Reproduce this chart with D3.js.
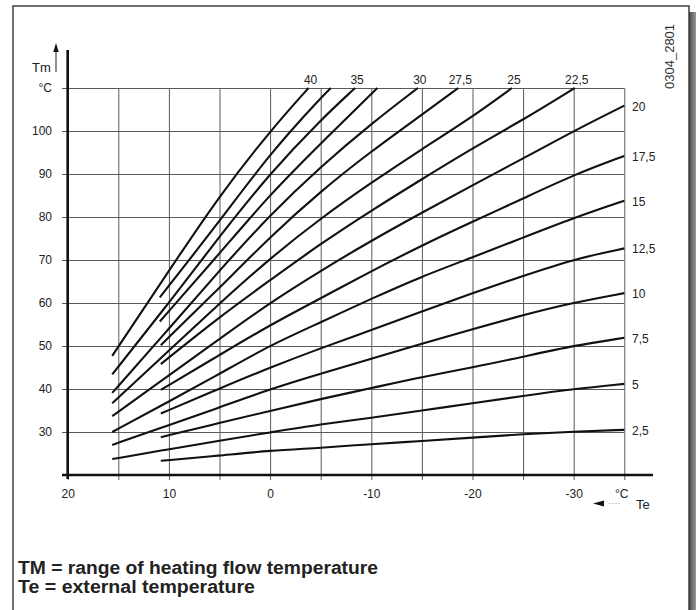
<!DOCTYPE html>
<html>
<head>
<meta charset="utf-8">
<script src="https://cdn.jsdelivr.net/npm/d3@7"></script>
<style>
  html, body { margin: 0; padding: 0; background: #fff; }
  svg { display: block; font-family: "Liberation Sans", Arial, Helvetica, sans-serif; }
  .grid line { stroke: #5a5a5a; stroke-width: 1; }
  .grid path { display: none; }
  .ylab text, .xlab text { font-size: 12px; fill: #222; }
  .curve { fill: none; stroke: #111; stroke-width: 2.1; stroke-linecap: butt; }
  .clabel { font-size: 12px; fill: #222; }
</style>
</head>
<body>
<svg id="chart" width="696" height="610"></svg>
<script>
// Heating curves: flow temperature Tm against outside temperature Te, one curve per slope setting.
const slopeLabels = ["2,5", "5", "7,5", "10", "12,5", "15", "17,5", "20", "22,5", "25", "27,5", "30", "32,5", "35", "37,5", "40"];
const topLabelled = ["22,5", "25", "27,5", "30", "35", "40"];

// [Te, Tm] readings for each curve
const c2_5  = [[10.8, 23.3], [5, 24.5], [0, 25.7], [-5, 26.3], [-10, 27.2], [-15, 27.9], [-20, 28.7], [-25, 29.5], [-30, 30.1], [-35, 30.5]];
const c5    = [[15.6, 23.7], [10, 26.0], [5, 28.0], [0, 29.9], [-5, 31.8], [-10, 33.3], [-15, 35.0], [-20, 36.7], [-25, 38.4], [-30, 40.0], [-35, 41.2]];
const c7_5  = [[10.8, 28.8], [5, 32.1], [0, 34.9], [-5, 37.7], [-10, 40.2], [-15, 42.8], [-20, 45.0], [-25, 47.5], [-30, 50.1], [-35, 51.9]];
const c10   = [[15.6, 27.0], [10, 31.6], [5, 35.7], [0, 40.0], [-5, 43.6], [-10, 47.0], [-15, 50.6], [-20, 53.9], [-25, 57.2], [-30, 60.1], [-35, 62.3]];
const c12_5 = [[10.8, 34.3], [5, 40.1], [0, 45.0], [-5, 49.5], [-10, 53.7], [-15, 58.0], [-20, 62.3], [-25, 66.3], [-30, 70.2], [-35, 72.7]];
const c15   = [[15.6, 30.0], [10, 37.1], [5, 43.5], [0, 50.2], [-5, 55.5], [-10, 61.0], [-15, 66.2], [-20, 70.6], [-25, 75.2], [-30, 79.8], [-35, 83.8]];
const c17_5 = [[10.8, 39.8], [5, 47.9], [0, 54.9], [-5, 61.1], [-10, 67.4], [-15, 73.4], [-20, 78.9], [-25, 84.3], [-30, 89.8], [-35, 94.2]];
const c20   = [[15.6, 33.7], [10, 43.2], [5, 51.6], [0, 60.1], [-5, 67.5], [-10, 74.5], [-15, 81.0], [-20, 87.4], [-25, 93.6], [-30, 100.0], [-35, 105.9]];
const c22_5 = [[10.8, 45.8], [5, 56.8], [0, 65.3], [-5, 73.8], [-10, 81.5], [-15, 88.8], [-20, 96.0], [-25, 102.6], [-30.1, 110]];
const c25   = [[15.6, 36.7], [10, 48.9], [5, 59.9], [0, 70.4], [-5, 79.7], [-10, 88.0], [-15, 95.8], [-20, 103.3], [-23.9, 110]];
const c27_5 = [[10.8, 50.2], [5, 63.5], [0, 75.4], [-5, 86.0], [-10, 95.3], [-15, 103.8], [-18.6, 110]];
const c30   = [[15.6, 39.1], [10, 54.0], [5, 67.6], [0, 80.5], [-5, 91.7], [-10, 101.7], [-14.6, 110]];
const c32_5 = [[10.9, 55.7], [5, 71.5], [0, 85.3], [-5, 97.1], [-10.6, 110]];
const c35   = [[15.6, 43.4], [10, 60.0], [5, 75.5], [0, 90.2], [-5, 102.6], [-8.4, 110]];
const c37_5 = [[10.9, 61.3], [5, 79.0], [0, 94.8], [-5, 107.7], [-6.0, 110]];
const c40   = [[15.6, 47.7], [10, 67.5], [5, 85.0], [0, 100.0], [-3.8, 110]];
const curveSeries = [c2_5, c5, c7_5, c10, c12_5, c15, c17_5, c20, c22_5, c25, c27_5, c30, c32_5, c35, c37_5, c40];

// axis ticks
const tmTicks = [30, 40, 50, 60, 70, 80, 90, 100, 110];
const teGrid = [20, 15, 10, 5, 0, -5, -10, -15, -20, -25, -30, -35];
const teLabels = [20, 10, 0, -10, -20, -30];

const svg = d3.select("#chart");
const x = d3.scaleLinear().domain([20, -35]).range([67.7, 624.3]);
const y = d3.scaleLinear().domain([20, 110]).range([475, 88]);

// page frame with drop shadow on the right
const defs = svg.append("defs");
const grad = defs.append("linearGradient").attr("id", "shade").attr("x1", 0).attr("x2", 1);
grad.append("stop").attr("offset", 0).attr("stop-color", "#4a4a4a");
grad.append("stop").attr("offset", 1).attr("stop-color", "#9a9a9a");
svg.append("rect").attr("x", 689).attr("y", 12).attr("width", 7).attr("height", 610).attr("fill", "url(#shade)");
svg.append("rect").attr("x", 13).attr("y", 6).attr("width", 676).attr("height", 620)
  .attr("fill", "#fff").attr("stroke", "#333").attr("stroke-width", 1.4);

// vertical grid lines (with small ticks below the base line)
svg.append("g").attr("class", "grid")
  .attr("transform", "translate(0,480)")
  .call(d3.axisBottom(x).tickValues(teGrid).tickSize(-(480 - y(110))).tickFormat(""));

// horizontal grid lines with Tm labels
svg.append("g").attr("class", "grid ylab")
  .attr("transform", "translate(62,0)")
  .call(d3.axisLeft(y).tickValues(tmTicks).tickSize(-(x(-35) - 62)).tickPadding(10)
    .tickFormat(d => d === 110 ? "°C" : String(d)));

// Te labels
svg.append("g").attr("class", "grid xlab")
  .attr("transform", "translate(0,475)")
  .call(d3.axisBottom(x).tickValues(teLabels).tickSize(0).tickPadding(14).tickFormat(d => String(d)));

// main axes
svg.append("line").attr("x1", x(20)).attr("x2", x(20)).attr("y1", 50).attr("y2", 479)
  .attr("stroke", "#111").attr("stroke-width", 2.6);
svg.append("line").attr("x1", 62).attr("x2", 653).attr("y1", y(20)).attr("y2", y(20))
  .attr("stroke", "#111").attr("stroke-width", 2.6);

// Tm axis title with arrow
svg.append("text").attr("x", 32).attr("y", 72).attr("font-size", 13).attr("fill", "#222").text("Tm");
svg.append("line").attr("x1", 56).attr("x2", 56).attr("y1", 72).attr("y2", 50).attr("stroke", "#222").attr("stroke-width", 1);
svg.append("path").attr("d", "M56,43 L53.3,52 L58.7,52 Z").attr("fill", "#111");

// Te axis title with arrow
svg.append("text").attr("x", 615).attr("y", 498).attr("font-size", 12).attr("fill", "#222").text("°C");
svg.append("text").attr("x", 636).attr("y", 509).attr("font-size", 13).attr("fill", "#222").text("Te");
svg.append("path").attr("d", "M593,503.5 L604,500.5 L604,506.5 Z").attr("fill", "#111");
svg.append("line").attr("x1", 609).attr("x2", 621).attr("y1", 503.5).attr("y2", 503.5)
  .attr("stroke", "#ccc").attr("stroke-width", 1).attr("stroke-dasharray", "2,1");

// drawing number
svg.append("text").attr("transform", "translate(674,89) rotate(-90)")
  .attr("font-size", 13).attr("fill", "#333").text("0304_2801");

// heating curves
const line = d3.line().x(d => x(d[0])).y(d => y(d[1])).curve(d3.curveBasis);
svg.append("g").selectAll("path").data(curveSeries).join("path")
  .attr("class", "curve").attr("d", line);

// curve labels: top edge or right edge, wherever the curve ends
curveSeries.forEach((pts, i) => {
  const end = pts[pts.length - 1];
  const lab = slopeLabels[i];
  if (end[1] >= 110) {
    if (topLabelled.includes(lab)) {
      svg.append("text").attr("class", "clabel").attr("text-anchor", "middle")
        .attr("x", x(end[0]) + 2).attr("y", y(110) - 4).text(lab);
    }
  } else {
    svg.append("text").attr("class", "clabel")
      .attr("x", 632).attr("y", y(end[1]) + 5).text(lab);
  }
});

// legend text
svg.append("text").attr("x", 18).attr("y", 574).attr("font-size", 18).attr("font-weight", "bold").attr("fill", "#222")
  .attr("textLength", 360).attr("lengthAdjust", "spacingAndGlyphs")
  .text("TM = range of heating flow temperature");
svg.append("text").attr("x", 18).attr("y", 593).attr("font-size", 18).attr("font-weight", "bold").attr("fill", "#222")
  .attr("textLength", 237).attr("lengthAdjust", "spacingAndGlyphs")
  .text("Te = external temperature");
</script>
</body>
</html>
